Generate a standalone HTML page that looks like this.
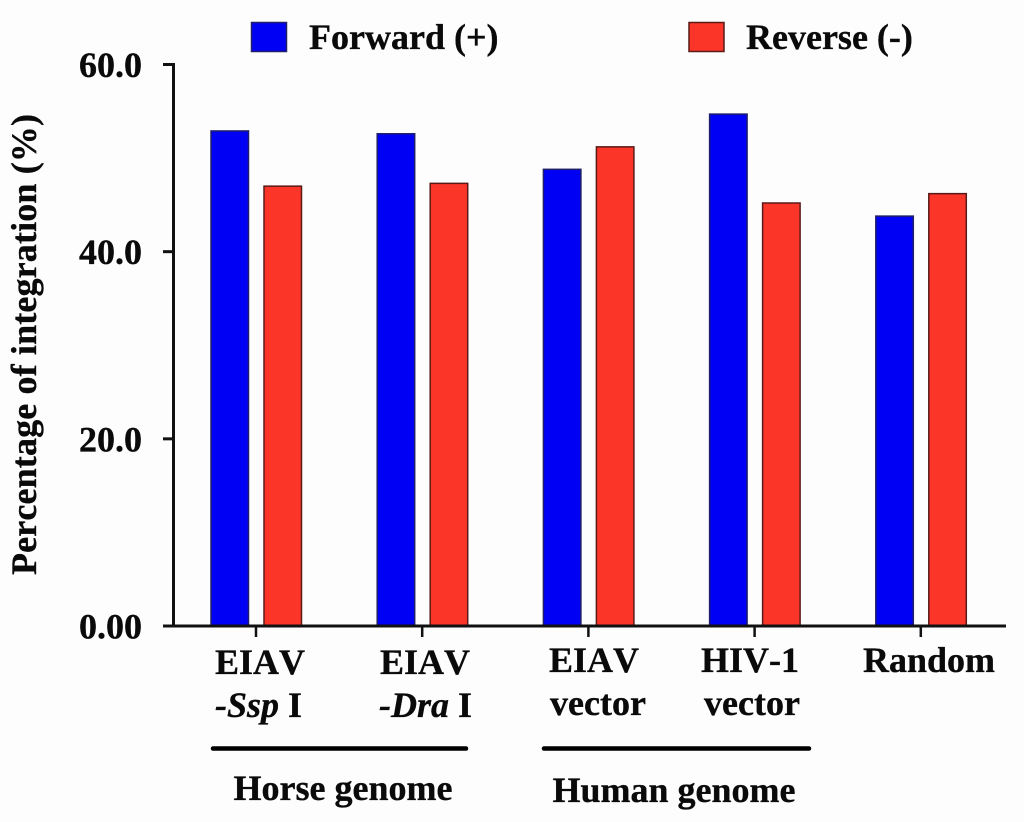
<!DOCTYPE html>
<html lang="en">
<head>
<meta charset="utf-8">
<title>Percentage of integration</title>
<style>
html,body{margin:0;padding:0;background:#fdfdfd;}
svg{display:block;}
text{font-family:"Liberation Serif",serif;font-weight:bold;fill:#0a0a0a;stroke:#0a0a0a;stroke-width:0.35px;font-kerning:none;}
</style>
</head>
<body>
<svg id="chart" xmlns="http://www.w3.org/2000/svg" width="1024" height="822" viewBox="0 0 1024 822">
  <rect x="0" y="0" width="1024" height="822" fill="#fdfdfd"/>

  <g>
    <rect x="251.5" y="22.5" width="35" height="29" fill="#0000f5" stroke="#20206a" stroke-width="1.5"/>
    <text x="309" y="49" font-size="36">Forward (+)</text>
    <rect x="689" y="22.5" width="35" height="29" fill="#fb3528" stroke="#5a1a18" stroke-width="1.5"/>
    <text x="746" y="49" font-size="36">Reverse (-)</text>
  </g>

  <text transform="translate(36,575) rotate(-90)" font-size="36" textLength="461" lengthAdjust="spacing">Percentage of integration (%)</text>

  <g id="bars"></g>
  <g id="axes"></g>

  <g>
    <text x="260" y="674" font-size="36" text-anchor="middle">EIAV</text>
    <text x="215" y="717" font-size="36"><tspan font-style="italic">-Ssp</tspan> I</text>
    <text x="425" y="674" font-size="36" text-anchor="middle">EIAV</text>
    <text x="379" y="717" font-size="36"><tspan font-style="italic">-Dra</tspan> I</text>
    <text x="594" y="672" font-size="36" text-anchor="middle">EIAV</text>
    <text x="598" y="715" font-size="36" text-anchor="middle">vector</text>
    <text x="750" y="672" font-size="36" text-anchor="middle">HIV-1</text>
    <text x="752" y="715" font-size="36" text-anchor="middle">vector</text>
    <text x="929" y="672" font-size="36" text-anchor="middle">Random</text>
  </g>

  <g>
    <line x1="213" y1="748.5" x2="466" y2="748.5" stroke="#000" stroke-width="4.5" stroke-linecap="round"/>
    <text x="343" y="800" font-size="36" text-anchor="middle">Horse genome</text>
    <line x1="544" y1="748.5" x2="809" y2="748.5" stroke="#000" stroke-width="4.5" stroke-linecap="round"/>
    <text x="674" y="802" font-size="36" text-anchor="middle">Human genome</text>
  </g>
</svg>
<script>
var categories = ['EIAV-Ssp I', 'EIAV-Dra I', 'EIAV vector', 'HIV-1 vector', 'Random'];
var forwardValues = [52.9, 52.6, 48.8, 54.7, 43.8];
var reverseValues = [47.0, 47.3, 51.2, 45.2, 46.2];
var yTickValues = [0, 20, 40, 60];
var yTickLabels = ['0.00', '20.0', '40.0', '60.0'];

var NS = 'http://www.w3.org/2000/svg';
var barsGroup = document.getElementById('bars');
var axesGroup = document.getElementById('axes');

function yScale(v) { return 626 - (v / 60) * 561.5; }
function xCenter(i) { return 256 + i * 166.2; }

function drawBar(parent, x, value, fill, stroke) {
  var r = document.createElementNS(NS, 'rect');
  r.setAttribute('x', x);
  r.setAttribute('y', yScale(value));
  r.setAttribute('width', 37.5);
  r.setAttribute('height', 626 - yScale(value));
  r.setAttribute('fill', fill);
  r.setAttribute('stroke', stroke);
  r.setAttribute('stroke-width', 1.5);
  parent.appendChild(r);
  return r;
}

function drawLine(parent, x1, y1, x2, y2, w) {
  var l = document.createElementNS(NS, 'line');
  l.setAttribute('x1', x1);
  l.setAttribute('y1', y1);
  l.setAttribute('x2', x2);
  l.setAttribute('y2', y2);
  l.setAttribute('stroke', '#111');
  l.setAttribute('stroke-width', w);
  parent.appendChild(l);
  return l;
}

categories.forEach(function (c, i) {
  var fb = drawBar(barsGroup, xCenter(i) - 45, forwardValues[i], '#0000f5', '#20206a');
  
  
  var rb = drawBar(barsGroup, xCenter(i) + 8, reverseValues[i], '#fb3528', '#5a1a18');
  
  
  var xt = drawLine(axesGroup, xCenter(i), 626, xCenter(i), 637, 2.5);
  
  
});

var yAxis = drawLine(axesGroup, 173.5, yScale(60) - 1.5, 173.5, 627.5, 3);



var xAxis = drawLine(axesGroup, 163, 626, 1006, 626, 3);



yTickValues.forEach(function (v, i) {
  var t = drawLine(axesGroup, 163, yScale(v), 175, yScale(v), 3);
  
  
  var lab = document.createElementNS(NS, 'text');
  lab.setAttribute('x', 142);
  lab.setAttribute('y', yScale(v) + 12.5);
  lab.setAttribute('font-size', 36);
  lab.setAttribute('text-anchor', 'end');
  lab.textContent = yTickLabels[i];
  
  
  axesGroup.appendChild(lab);
});
</script>
</body>
</html>
